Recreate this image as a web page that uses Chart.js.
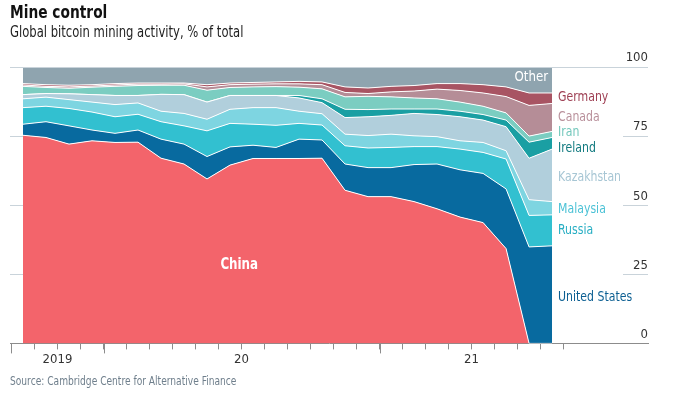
<!DOCTYPE html>
<html>
<head>
<meta charset="utf-8">
<script src="https://cdn.jsdelivr.net/npm/chart.js@4.4.0/dist/chart.umd.min.js"></script>
<style>
  html, body { margin: 0; padding: 0; background: #fff; }
  #wrap { position: relative; width: 673px; height: 396px; overflow: hidden; }
  canvas { position: absolute; left: 0; top: 0; }
  .txt { position: absolute; left: 10px; white-space: nowrap; transform-origin: 0 0; font-family: 'Liberation Sans Narrow', 'Arial Narrow', 'DejaVu Sans Condensed', Roboto, sans-serif; }
  #title { top: 1px; font-size: 18px; font-weight: bold; color: #111; transform: scaleX(0.85); }
  #subtitle { top: 23px; font-size: 15px; color: #222; transform: scaleX(0.86); }
  #source { top: 374px; font-size: 11.5px; color: #6f7f8c; transform: scaleX(0.88); }
</style>
</head>
<body>
<div id="wrap">
  <canvas id="c" width="673" height="396"></canvas>
  <div class="txt" id="title">Mine control</div>
  <div class="txt" id="subtitle">Global bitcoin mining activity, % of total</div>
  <div class="txt" id="source">Source: Cambridge Centre for Alternative Finance</div>
</div>
<script>
// ---- Data (monthly, Sep 2019 – Aug 2021), % of global hashrate ----
const months = ['2019-09','2019-10','2019-11','2019-12','2020-01','2020-02','2020-03','2020-04',
  '2020-05','2020-06','2020-07','2020-08','2020-09','2020-10','2020-11','2020-12',
  '2021-01','2021-02','2021-03','2021-04','2021-05','2021-06','2021-07','2021-08'];
const china        = [75.3,74.5,72.1,73.3,72.7,72.8,67.0,64.9,59.5,64.5,66.9,66.9,66.9,67.0,55.4,53.1,53.1,51.3,48.7,45.7,43.7,34.3,0,0];
const unitedStates = [4.0,5.7,6.6,3.9,3.3,4.4,6.9,7.2,8.1,6.6,4.8,4.0,7.0,6.6,9.5,10.5,10.5,13.4,16.2,17.1,17.8,21.6,34.9,35.3];
const russia       = [6.0,5.6,6.3,6.5,6.0,5.7,6.3,6.6,9.3,8.5,7.6,8.0,5.7,5.4,6.6,7.1,7.3,6.5,6.3,7.5,7.6,10.8,11.4,11.2];
const malaysia     = [3.2,3.3,3.2,3.6,4.4,4.1,3.8,4.5,4.2,5.1,6.0,6.4,4.4,4.1,4.2,4.5,4.8,3.9,3.6,3.0,3.6,3.0,5.7,4.8];
const kazakhstan   = [1.5,1.3,2.1,2.7,3.3,2.7,6.1,6.8,6.2,5.0,4.4,4.4,4.8,4.0,6.0,6.8,6.8,8.1,8.0,8.7,8.1,8.7,15.0,19.0];
const ireland      = [0,0,0,0,0,0,0,0,0,0,0,0,0.9,1.4,3.0,2.6,2.3,1.6,2.0,2.0,2.0,2.4,5.8,4.2];
const iran         = [3.0,2.2,2.0,2.7,3.3,3.6,3.3,3.4,4.3,2.9,3.1,3.2,3.0,3.6,4.5,4.8,4.4,4.0,3.7,3.3,3.0,2.6,2.2,2.2];
const canada       = [0.5,0.4,0.5,0.4,0.5,0.5,0.4,0.5,1.2,1.0,1.0,1.0,1.2,1.5,1.6,1.0,1.8,2.5,3.5,4.2,4.8,5.9,11.1,10.1];
const germany      = [0.5,0.6,0.6,0.5,0.5,0.4,0.4,0.3,0.8,0.6,0.6,0.7,0.9,1.0,2.0,2.0,2.0,2.0,2.0,2.5,3.0,3.5,4.5,3.8];
const other        = [6.0,6.4,6.6,6.4,6.0,5.8,5.8,5.8,6.4,5.8,5.6,5.4,5.2,5.4,7.2,7.6,7.0,6.7,6.0,6.0,6.4,7.2,9.4,9.4];

const yTicks = [0, 25, 50, 75, 100];
const yearLabels = [{at: 1.5, text: '2019'}, {at: 9.5, text: '20'}, {at: 19.5, text: '21'}];
const yearBoundaries = [-0.5, 3.5, 15.5];
const monthBoundaries = months.map((m, i) => i - 0.5).concat([months.length - 0.5]);

// ---- Styles ----
const FONT = "'Liberation Sans Narrow', 'Arial Narrow', 'DejaVu Sans Condensed', Roboto, sans-serif";
const GRID = '#c9d3da';
const AXIS = '#8c8c8c';

const series = [
  {name: 'China',         data: china,        fill: '#f3646b', text: null},
  {name: 'United States', data: unitedStates, fill: '#086a9f', text: '#0c5f92', labelAt: 17.4},
  {name: 'Russia',        data: russia,       fill: '#32c0d0', text: '#27aec3', labelAt: 41.6},
  {name: 'Malaysia',      data: malaysia,     fill: '#7ed5e1', text: '#4cc2d6', labelAt: 49.2},
  {name: 'Kazakhstan',    data: kazakhstan,   fill: '#b1cfdc', text: '#a7c6d4', labelAt: 60.9},
  {name: 'Ireland',       data: ireland,      fill: '#1a9fa3', text: '#137b80', labelAt: 71.4},
  {name: 'Iran',          data: iran,         fill: '#7bcdc1', text: '#74c8bc', labelAt: 77.1},
  {name: 'Canada',        data: canada,       fill: '#b58d97', text: '#b9909b', labelAt: 82.6},
  {name: 'Germany',       data: germany,      fill: '#a85463', text: '#9e3f53', labelAt: 89.7},
  {name: 'Other',         data: other,        fill: '#8fa4af', text: null}
];

const datasets = series.map((s, k) => ({
  label: s.name,
  data: s.data.map((v, i) => ({x: i, y: v})),
  backgroundColor: s.fill,
  borderColor: '#ffffff',
  borderWidth: 1,
  pointRadius: 0,
  tension: 0,
  fill: k === 0 ? 'origin' : '-1'
}));

function narrowText(ctx, text, px, py, sx) {
  ctx.save();
  ctx.translate(px, py);
  ctx.scale(sx, 1);
  ctx.fillText(text, 0, 0);
  ctx.restore();
}

const annotate = {
  id: 'annotate',
  afterDatasetsDraw(chart) {
    const {ctx, chartArea: a, scales: {x, y}} = chart;
    ctx.save();
    // horizontal gridline stubs
    ctx.strokeStyle = GRID;
    ctx.lineWidth = 1;
    yTicks.forEach(v => {
      if (v === 0) return;
      const py = Math.round(y.getPixelForValue(v)) + 0.5;
      ctx.beginPath();
      if (v === 100) {
        ctx.moveTo(a.left, py); ctx.lineTo(a.right, py);
      } else {
        ctx.moveTo(a.left, py); ctx.lineTo(x.getPixelForValue(0), py);
        ctx.moveTo(a.right - 25, py); ctx.lineTo(a.right, py);
      }
      ctx.stroke();
    });
    // series labels on the right
    const lx = x.getPixelForValue(months.length - 1) + 6;
    ctx.font = "13.5px " + FONT;
    ctx.textAlign = 'left';
    ctx.textBaseline = 'middle';
    series.forEach(s => {
      if (!s.text) return;
      ctx.fillStyle = s.text;
      narrowText(ctx, s.name, lx, y.getPixelForValue(s.labelAt) + 2, 0.9);
    });
    // inside labels
    ctx.fillStyle = '#ffffff';
    ctx.textAlign = 'right';
    ctx.font = "14px " + FONT;
    narrowText(ctx, 'Other', x.getPixelForValue(months.length - 1) - 4, y.getPixelForValue(96.5) + 1, 0.94);
    ctx.textAlign = 'center';
    ctx.font = "bold 15px " + FONT;
    narrowText(ctx, 'China', x.getPixelForValue(9.4), y.getPixelForValue(28.3), 0.88);
    ctx.restore();
  },
  afterDraw(chart) {
    const {ctx, chartArea: a, scales: {x}} = chart;
    ctx.save();
    ctx.strokeStyle = AXIS;
    ctx.lineWidth = 1;
    yearBoundaries.forEach(v => {
      const px = Math.round(x.getPixelForValue(v)) + 0.5;
      ctx.beginPath();
      ctx.moveTo(px, a.bottom);
      ctx.lineTo(px, a.bottom + 10);
      ctx.stroke();
    });
    ctx.restore();
  }
};

new Chart(document.getElementById('c'), {
  type: 'line',
  data: {datasets},
  plugins: [annotate],
  options: {
    responsive: false,
    devicePixelRatio: 1,
    animation: false,
    events: [],
    layout: {padding: {left: 10, right: 25, top: 67, bottom: 27}},
    plugins: {legend: {display: false}, tooltip: {enabled: false}, filler: {propagate: false}},
    scales: {
      x: {
        type: 'linear',
        min: -0.565,
        max: 27.17,
        z: 1,
        afterBuildTicks: (scale) => { scale.ticks = monthBoundaries.map(v => ({value: v})); },
        grid: {drawOnChartArea: false, drawTicks: true, tickLength: 6, tickColor: AXIS},
        border: {display: true, color: AXIS, width: 1},
        ticks: {
          autoSkip: false, maxRotation: 0, padding: 2,
          color: '#333', font: {family: FONT, size: 13},
          callback: (v) => { const f = yearLabels.find(l => Math.abs(l.at - v) < 1e-6); return f ? f.text : ''; }
        }
      },
      y: {
        position: 'right',
        stacked: true,
        min: 0, max: 100,
        afterBuildTicks: (scale) => { scale.ticks = yTicks.map(v => ({value: v})); },
        grid: {drawOnChartArea: false, drawTicks: false},
        border: {display: false},
        ticks: {mirror: true, padding: 0, labelOffset: -9, color: '#333', font: {family: FONT, size: 13}}
      }
    }
  }
});
</script>
</body>
</html>
